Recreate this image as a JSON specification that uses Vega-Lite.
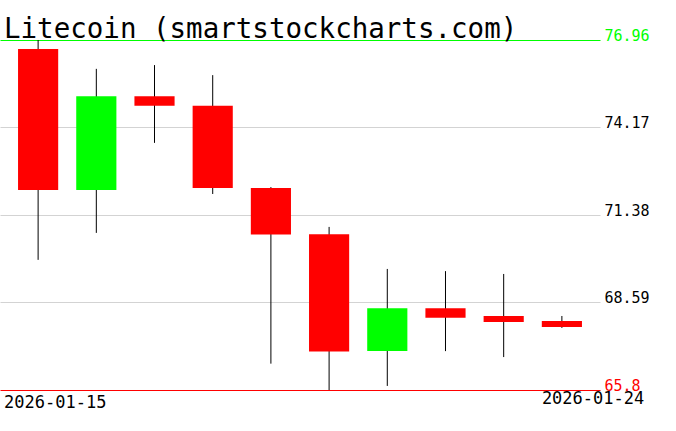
{
  "$schema": "https://vega.github.io/schema/vega-lite/v6.json",
  "width": 600,
  "height": 350,
  "autosize": "none",
  "padding": {"left": 0, "top": 40, "right": 76, "bottom": 41},
  "background": "white",
  "title": {
    "text": "Litecoin (smartstockcharts.com)",
    "anchor": "start",
    "frame": "group",
    "font": "DejaVu Sans Mono",
    "fontSize": 27.5,
    "fontWeight": "normal",
    "color": "black",
    "baseline": "alphabetic",
    "offset": 2,
    "dx": 4,
    "dy": 39
  },
  "config": {"view": {"stroke": null}},
  "data": {
    "values": [
      {"date": "2026-01-15", "open": 76.67, "high": 76.96, "low": 69.95, "close": 72.18},
      {"date": "2026-01-16", "open": 72.18, "high": 76.04, "low": 70.81, "close": 75.17},
      {"date": "2026-01-17", "open": 75.17, "high": 76.16, "low": 73.68, "close": 74.86},
      {"date": "2026-01-18", "open": 74.86, "high": 75.84, "low": 72.05, "close": 72.24},
      {"date": "2026-01-19", "open": 72.24, "high": 72.27, "low": 66.64, "close": 70.76},
      {"date": "2026-01-20", "open": 70.77, "high": 71.00, "low": 65.80, "close": 67.03},
      {"date": "2026-01-21", "open": 67.04, "high": 69.66, "low": 65.93, "close": 68.41},
      {"date": "2026-01-22", "open": 68.41, "high": 69.59, "low": 67.04, "close": 68.10},
      {"date": "2026-01-23", "open": 68.16, "high": 69.50, "low": 66.85, "close": 67.97},
      {"date": "2026-01-24", "open": 68.00, "high": 68.16, "low": 67.78, "close": 67.81}
    ]
  },
  "encoding": {
    "x": {
      "field": "date",
      "type": "ordinal",
      "sort": null,
      "scale": {"paddingInner": 0.31, "paddingOuter": 0.31},
      "axis": null
    }
  },
  "layer": [
    {
      "mark": {"type": "rule", "color": "black", "strokeWidth": 1},
      "encoding": {
        "y": {
          "field": "low",
          "type": "quantitative",
          "scale": {"domain": [65.8, 76.96], "nice": false, "zero": false},
          "axis": {
            "orient": "right",
            "values": [65.8, 68.59, 71.38, 74.17, 76.96],
            "title": null,
            "domain": false,
            "ticks": false,
            "grid": true,
            "gridColor": {
              "condition": [
                {"test": "datum.value == 76.96", "value": "#00ff00"},
                {"test": "datum.value == 65.8", "value": "#ff0000"}
              ],
              "value": "#d3d3d3"
            },
            "gridWidth": 1,
            "gridOpacity": 1,
            "labelColor": {
              "condition": [
                {"test": "datum.value == 76.96", "value": "#00ff00"},
                {"test": "datum.value == 65.8", "value": "#ff0000"}
              ],
              "value": "black"
            },
            "labelFont": "DejaVu Sans Mono",
            "labelFontSize": 15,
            "labelPadding": 4,
            "labelBaseline": "alphabetic",
            "labelAlign": "left",
            "labelOverlap": false,
            "labelFlush": false,
            "format": ".2~f"
          }
        },
        "y2": {"field": "high"}
      }
    },
    {
      "mark": {"type": "bar"},
      "encoding": {
        "y": {"field": "open", "type": "quantitative"},
        "y2": {"field": "close"},
        "color": {
          "condition": {"test": "datum.close > datum.open", "value": "#00ff00"},
          "value": "#ff0000"
        }
      }
    },
    {
      "transform": [{"filter": "datum.date == '2026-01-15'"}],
      "mark": {"type": "text", "font": "DejaVu Sans Mono", "fontSize": 17, "align": "left", "baseline": "top", "dx": -34, "dy": 5, "color": "black"},
      "encoding": {
        "y": {"datum": 65.8, "type": "quantitative"},
        "text": {"field": "date"}
      }
    },
    {
      "transform": [{"filter": "datum.date == '2026-01-24'"}],
      "mark": {"type": "text", "font": "DejaVu Sans Mono", "fontSize": 17, "align": "left", "baseline": "top", "dx": -20, "dy": 1, "color": "black"},
      "encoding": {
        "y": {"datum": 65.8, "type": "quantitative"},
        "text": {"field": "date"}
      }
    }
  ]
}
